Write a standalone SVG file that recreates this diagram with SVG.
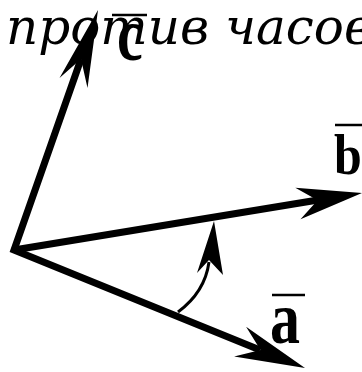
<svg xmlns="http://www.w3.org/2000/svg" width="362" height="372" viewBox="0 0 362 372">
<style>
.vec{fill:none;stroke:#000;stroke-width:7;stroke-linejoin:miter;stroke-miterlimit:10}
.head{fill:#000;stroke:none}
.lbl{font-family:"Liberation Serif",serif;font-weight:bold;fill:#000}
.bar{stroke:#000;stroke-width:2.5}
.cap{font-family:"DejaVu Serif",serif;font-style:italic;font-size:50px;fill:#000}
</style>
<rect width="362" height="372" fill="#fff"/>
<text class="cap" x="6" y="44">против часовой</text>
<g id="connectors">
<path class="vec" d="M81,59 L14,250 L260,350"/>
<path class="vec" d="M14,250 L318,200"/>
<polygon class="head" points="362,193 300.5,219.3 317.6,200.3 295.3,187.7"/>
<polygon class="head" points="305,368 234.1,356.4 260.5,349.9 246.1,326.8"/>
<polygon class="head" points="98,10 87.5,88 81,59 59.5,78"/>
<path d="M178,312 Q205,292 209,262" fill="none" stroke="#000" stroke-width="3"/>
<polygon class="head" points="214,221 223,275 209,260 197,273"/>
</g>
<g id="label-a">
<text class="lbl" font-size="60" transform="translate(270,343) scale(1,1.22)">a</text>
<line class="bar" x1="272" y1="295" x2="305" y2="295"/>
</g>
<g id="label-b">
<text class="lbl" font-size="50" transform="translate(334,174) scale(1,1.12)">b</text>
<line class="bar" x1="335" y1="125" x2="362" y2="125"/>
</g>
<g id="label-c">
<text class="lbl" font-size="58" transform="translate(117,60) scale(1,1.3)">c</text>
<line class="bar" x1="112" y1="15" x2="147" y2="15"/>
</g>
</svg>
